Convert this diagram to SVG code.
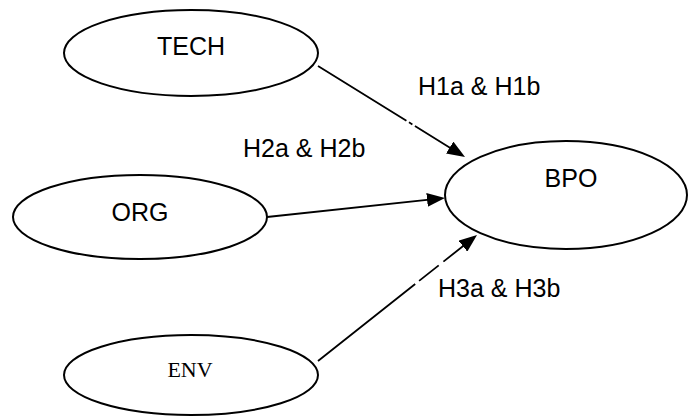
<svg xmlns="http://www.w3.org/2000/svg" width="688" height="417" viewBox="0 0 688 417">
<defs>
<style>
.node{fill:#fff;stroke:#000;stroke-width:2}
.lbl{font-family:"Liberation Sans",Arial,sans-serif;font-size:25px;fill:#000}
.serif{font-family:"Liberation Serif","Times New Roman",serif;font-size:22px;fill:#000}
.edge{fill:none;stroke:#000;stroke-width:1.8}
</style>
<marker id="arr" markerUnits="userSpaceOnUse" viewBox="0 0 18 14" markerWidth="18" markerHeight="14" refX="14" refY="7" orient="auto">
<path d="M0,0 L18,7 L0,14 z" fill="#000"/>
</marker>
</defs>
<rect width="688" height="417" fill="#fff"/>
<g id="TECH">
<ellipse class="node" cx="191" cy="53" rx="127" ry="43"/>
<text class="lbl" x="191" y="55" text-anchor="middle">TECH</text>
</g>
<g id="ORG">
<ellipse class="node" cx="140" cy="217" rx="127" ry="42"/>
<text class="lbl" x="140" y="221" text-anchor="middle">ORG</text>
</g>
<g id="BPO">
<ellipse class="node" cx="566" cy="195" rx="121" ry="54"/>
<text class="lbl" x="571" y="187" text-anchor="middle">BPO</text>
</g>
<g id="ENV">
<ellipse class="node" cx="191" cy="375" rx="127" ry="40"/>
<text class="serif" x="190" y="377" text-anchor="middle">ENV</text>
</g>
<g id="connectors">
<path class="edge" d="M318,66 L461.6,154.9" stroke-dasharray="104 3 4 3 1000" marker-end="url(#arr)"/>
<path class="edge" d="M267,217 L441,198.4" marker-end="url(#arr)"/>
<path class="edge" d="M318,361 L473.9,237.5" stroke-dasharray="124 5 25 6 1000" marker-end="url(#arr)"/>
</g>
<g id="labels">
<text class="lbl" x="418" y="95">H1a &amp; H1b</text>
<text class="lbl" x="243" y="157">H2a &amp; H2b</text>
<text class="lbl" x="438" y="297">H3a &amp; H3b</text>
</g>
</svg>
